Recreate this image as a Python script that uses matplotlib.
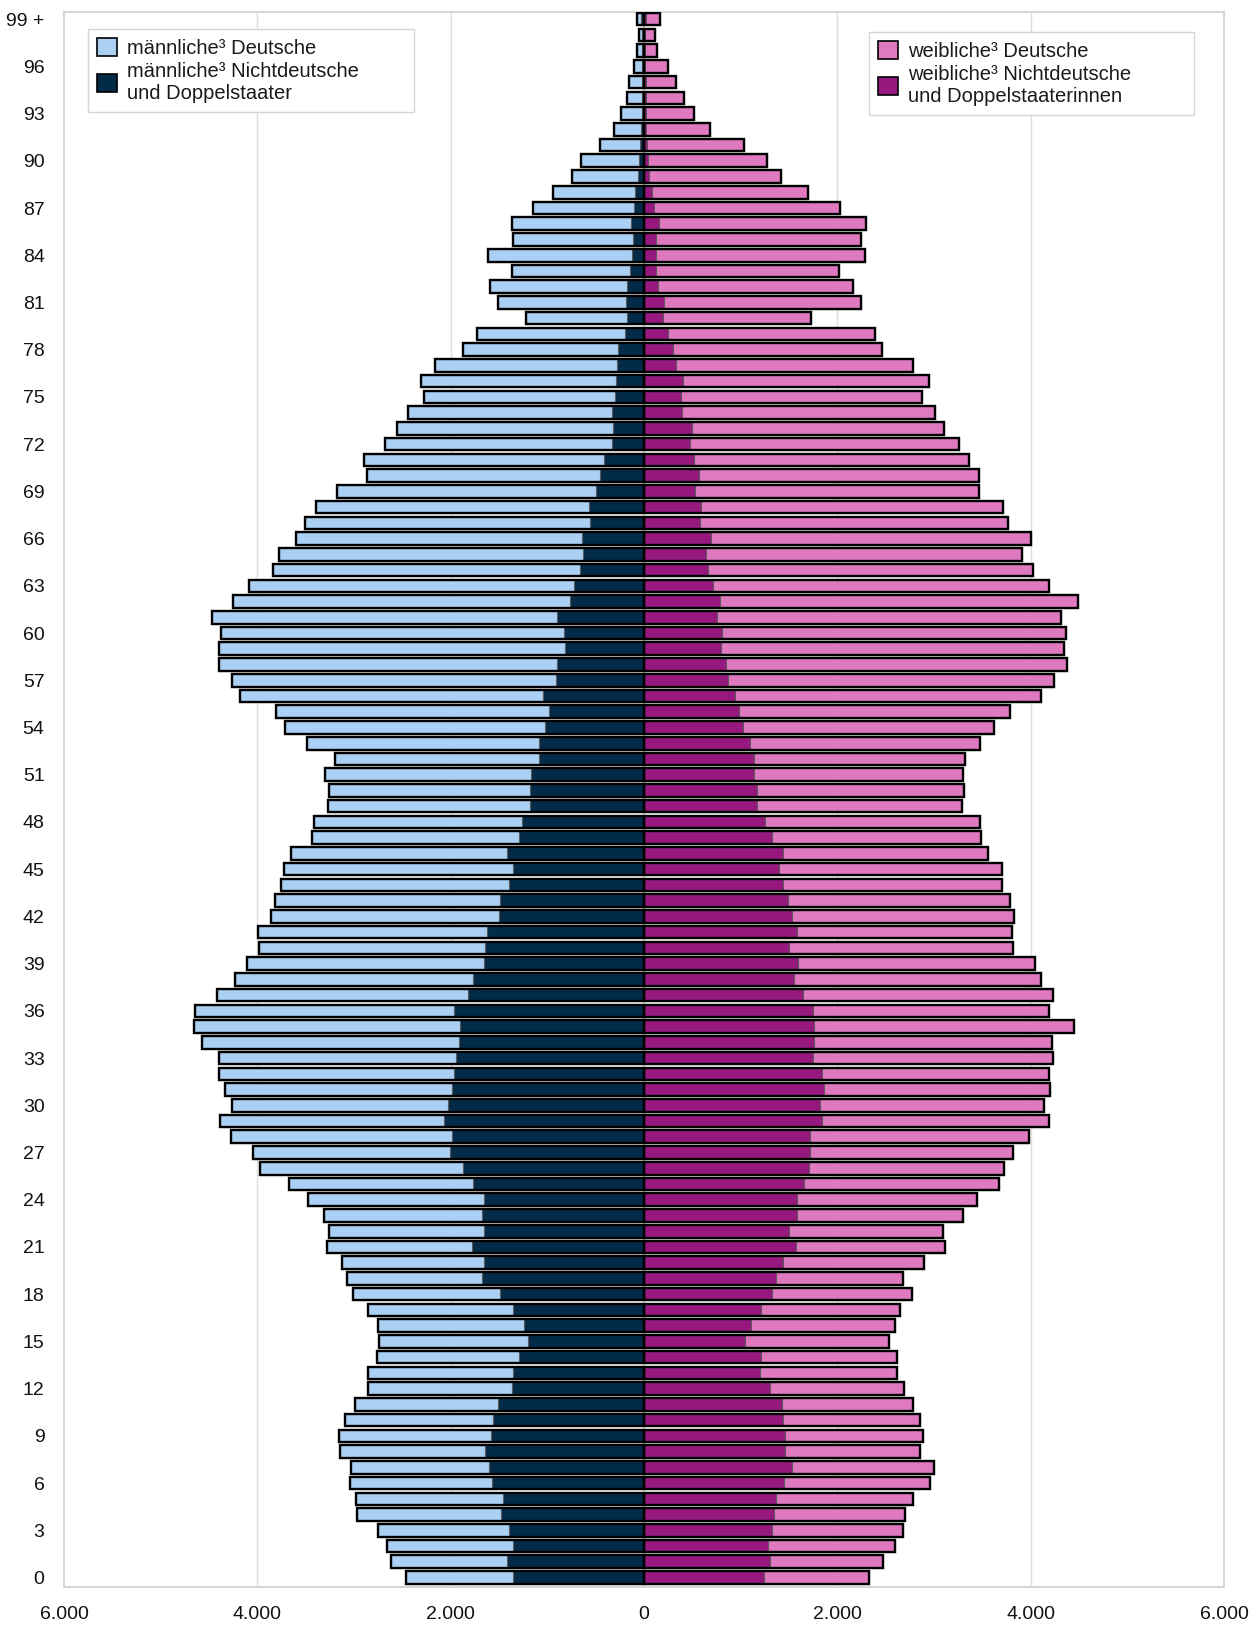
import numpy as np
import matplotlib
matplotlib.use("Agg")
import matplotlib.pyplot as plt
from matplotlib.patches import Patch
from matplotlib import font_manager

# age groups 0 .. 99+
ages = np.arange(100)
ytick_ages = list(range(0, 100, 3))
ytick_labels = [str(a) for a in ytick_ages[:-1]] + ["99 +"]
xtick_vals = [-6000, -4000, -2000, 0, 2000, 4000, 6000]
xtick_labels = ["6.000", "4.000", "2.000", "0", "2.000", "4.000", "6.000"]

# male: total (Deutsche + Nichtdeutsche) and Nichtdeutsche, age 0..99
m_total = [2460, 2620, 2655, 2750, 2965, 2975, 3040, 3030, 3140, 3160,
           3095, 2990, 2850, 2850, 2760, 2740, 2750, 2860, 3010, 3075,
           3120, 3280, 3260, 3310, 3475, 3670, 3970, 4045, 4270, 4390,
           4260, 4335, 4400, 4400, 4575, 4660, 4640, 4420, 4230, 4110,
           3980, 3990, 3860, 3820, 3755, 3720, 3655, 3430, 3410, 3270,
           3260, 3300, 3200, 3485, 3710, 3810, 4175, 4260, 4400, 4400,
           4380, 4465, 4250, 4090, 3840, 3775, 3600, 3505, 3395, 3180,
           2865, 2900, 2680, 2550, 2445, 2275, 2305, 2165, 1870, 1730,
           1225, 1515, 1590, 1370, 1610, 1360, 1370, 1145, 940, 745,
           655, 450, 315, 235, 180, 155, 105, 70, 50, 70]
m_nd = [1360, 1415, 1350, 1400, 1480, 1455, 1575, 1605, 1640, 1585,
        1565, 1510, 1370, 1360, 1295, 1195, 1240, 1350, 1490, 1680,
        1660, 1780, 1650, 1680, 1660, 1770, 1875, 2005, 1985, 2070,
        2030, 1985, 1965, 1940, 1910, 1900, 1965, 1825, 1770, 1660,
        1640, 1620, 1500, 1490, 1400, 1350, 1415, 1295, 1260, 1175,
        1175, 1165, 1090, 1090, 1025, 980, 1045, 915, 895, 820,
        830, 905, 765, 725, 660, 635, 645, 560, 571, 492,
        460, 417, 333, 317, 333, 302, 286, 278, 274, 194,
        179, 183, 171, 147, 123, 115, 131, 107, 91, 60,
        48, 40, 28, 20, 20, 18, 20, 20, 18, 30]

# female: total and Nichtdeutsche, age 0..99
f_total = [2330, 2470, 2600, 2675, 2700, 2780, 2955, 3000, 2860, 2890,
           2860, 2780, 2685, 2620, 2620, 2535, 2600, 2645, 2770, 2675,
           2900, 3115, 3095, 3300, 3440, 3670, 3720, 3820, 3980, 4185,
           4140, 4205, 4195, 4230, 4220, 4445, 4185, 4230, 4110, 4045,
           3820, 3810, 3830, 3785, 3700, 3700, 3560, 3485, 3475, 3290,
           3310, 3300, 3320, 3475, 3625, 3785, 4110, 4240, 4380, 4350,
           4370, 4315, 4490, 4185, 4025, 3915, 4000, 3765, 3710, 3465,
           3470, 3365, 3255, 3105, 3015, 2875, 2950, 2780, 2460, 2395,
           1730, 2250, 2160, 2015, 2290, 2250, 2300, 2030, 1700, 1415,
           1275, 1035, 682, 522, 410, 335, 250, 130, 110, 170]
f_nd = [1240, 1305, 1285, 1325, 1340, 1370, 1445, 1530, 1455, 1455,
        1435, 1425, 1305, 1200, 1210, 1045, 1110, 1210, 1325, 1370,
        1435, 1575, 1500, 1585, 1585, 1660, 1705, 1715, 1715, 1845,
        1825, 1865, 1845, 1750, 1760, 1760, 1750, 1640, 1555, 1595,
        1500, 1585, 1530, 1490, 1435, 1400, 1435, 1325, 1250, 1165,
        1165, 1135, 1135, 1100, 1025, 980, 940, 865, 850, 800,
        810, 755, 790, 710, 660, 645, 690, 580, 585, 525,
        573, 517, 477, 497, 398, 382, 406, 334, 302, 250,
        195, 211, 147, 127, 127, 127, 151, 99, 87, 52,
        44, 36, 24, 20, 18, 16, 14, 12, 10, 20]

c_m_de = "#aad1f4"
c_m_nd = "#022a49"
c_f_de = "#df7ac0"
c_f_nd = "#97187f"

m_total = np.array(m_total)
m_nd = np.array(m_nd)
f_total = np.array(f_total)
f_nd = np.array(f_nd)

plt.rcParams['font.family'] = ['Liberation Sans', 'DejaVu Sans']
names = {f.name for f in font_manager.fontManager.ttflist}
narrow = 'Liberation Sans Narrow' if 'Liberation Sans Narrow' in names else 'Liberation Sans'

fig = plt.figure(figsize=(12.6, 16.25), dpi=100)
ax = fig.add_axes([0.0508, 0.0234, 0.9206, 0.9692])

h = 0.8
seg_edge = "#5a5a5a"
# male side (negative)
ax.barh(ages, -m_nd, height=h, color=c_m_nd, edgecolor=seg_edge, linewidth=0.8, zorder=3)
ax.barh(ages, -(m_total - m_nd), left=-m_nd, height=h, color=c_m_de,
        edgecolor=seg_edge, linewidth=0.8, zorder=3)
ax.barh(ages, -m_total, height=h, fill=False, edgecolor="black", linewidth=1.7, zorder=4)
# female side
ax.barh(ages, f_nd, height=h, color=c_f_nd, edgecolor=seg_edge, linewidth=0.8, zorder=3)
ax.barh(ages, f_total - f_nd, left=f_nd, height=h, color=c_f_de,
        edgecolor=seg_edge, linewidth=0.8, zorder=3)
ax.barh(ages, f_total, height=h, fill=False, edgecolor="black", linewidth=1.7, zorder=4)

ax.set_xlim(-6000, 6000)
ax.set_ylim(-0.6, 99.45)
ax.set_xticks(xtick_vals)
ax.set_xticklabels(xtick_labels, fontsize=14, family=[narrow, 'DejaVu Sans'])
ax.set_yticks(ytick_ages)
ax.set_yticklabels(ytick_labels, fontsize=14)
ax.tick_params(axis="both", length=0, colors="#111111")
ax.tick_params(axis="x", pad=14)
ax.tick_params(axis="y", pad=14)

for x in [-4000, -2000, 2000, 4000]:
    ax.axvline(x, color="#dedede", linewidth=1.0, zorder=1)
for s in ax.spines.values():
    s.set_color("#d6d6d6")
    s.set_linewidth(1.5)

leg_kw = dict(fontsize=14.5, frameon=True, fancybox=False, handlelength=1.0,
              handleheight=1.0, handletextpad=0.5, borderpad=0.45, labelspacing=0.2,
              edgecolor="#d6d6d6", framealpha=1.0, borderaxespad=0, mode="expand",
              bbox_transform=fig.transFigure, loc="upper left")
h_m = [Patch(facecolor=c_m_de, edgecolor="black", linewidth=1.2),
       Patch(facecolor=c_m_nd, edgecolor="black", linewidth=1.2)]
leg1 = ax.legend(h_m, ["männliche\u00b3 Deutsche",
                       "männliche\u00b3 Nichtdeutsche\nund Doppelstaater"],
                 bbox_to_anchor=(88 / 1260, 1 - 29 / 1625, 326 / 1260, 0.0), **leg_kw)
leg1.get_frame().set_linewidth(1.0)
ax.add_artist(leg1)
h_f = [Patch(facecolor=c_f_de, edgecolor="black", linewidth=1.2),
       Patch(facecolor=c_f_nd, edgecolor="black", linewidth=1.2)]
leg2 = ax.legend(h_f, ["weibliche\u00b3 Deutsche",
                       "weibliche\u00b3 Nichtdeutsche\nund Doppelstaaterinnen"],
                 bbox_to_anchor=(869 / 1260, 1 - 32 / 1625, 325 / 1260, 0.0), **leg_kw)
leg2.get_frame().set_linewidth(1.0)
for lg in (leg1, leg2):
    for t in lg.get_texts():
        t.set_color("#1a1a1a")

fig.savefig("out.png", dpi=100, facecolor="white")
